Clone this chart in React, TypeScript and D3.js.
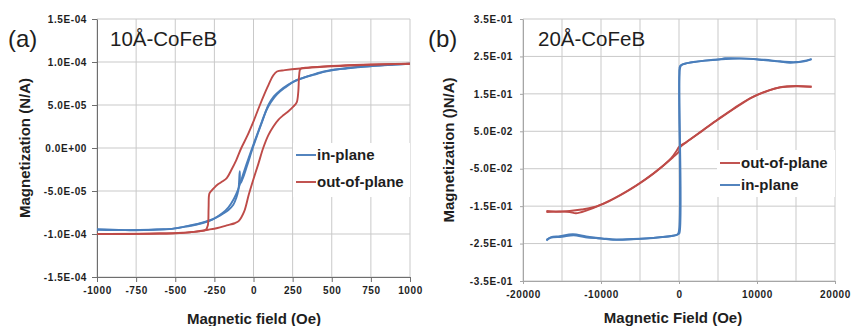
// Two magnetization hysteresis panels (10Å / 20Å CoFeB), drawn with D3
import { useEffect, useRef } from "react"
import * as d3 from "d3"

type Pt = [number, number]

// ---------- panel (a): 10Å-CoFeB ----------
const xGridA = [-1000, -750, -500, -250, 0, 250, 500, 750, 1000]
const xTickLabelsA = ["-1000", "-750", "-500", "-250", "0", "250", "500", "750", "1000"]
const yTicksA = [-1.5e-4, -1.0e-4, -5.0e-5, 0, 5.0e-5, 1.0e-4, 1.5e-4]
const yTickLabelsA = ["-1.5E-04", "-1.0E-04", "-5.0E-05", "0.0E+00", "5.0E-05", "1.0E-04", "1.5E-04"]

// in-plane, field sweep up then down
const inPlaneUpA: Pt[] = [
  [-1000, -9.45e-5], [-900, -9.5e-5], [-790, -9.56e-5], [-700, -9.55e-5], [-576, -9.45e-5],
  [-500, -9.35e-5], [-406, -9.0e-5], [-340, -8.75e-5], [-278, -8.4e-5], [-230, -8.0e-5],
  [-193, -7.6e-5], [-160, -7.2e-5], [-129, -6.6e-5], [-110, -5.8e-5], [-96, -4.8e-5],
  [-88, -2.7e-5], [-84, -4.1e-5], [-70, -3.6e-5], [-40, -2.0e-5], [-5, 0],
  [30, 1.8e-5], [60, 3.3e-5], [95, 5.0e-5], [130, 6.0e-5], [170, 6.7e-5],
  [220, 7.35e-5], [276, 7.9e-5], [330, 8.25e-5], [382, 8.5e-5], [450, 8.85e-5],
  [520, 9.1e-5], [595, 9.25e-5], [700, 9.45e-5], [808, 9.6e-5], [900, 9.7e-5], [1000, 9.8e-5],
]
const inPlaneDownA: Pt[] = [
  [1000, 9.8e-5], [800, 9.6e-5], [600, 9.3e-5], [450, 8.9e-5], [350, 8.35e-5],
  [260, 7.75e-5], [200, 7.0e-5], [150, 6.25e-5], [110, 5.3e-5], [80, 4.3e-5],
  [40, 2.4e-5], [-20, -0.6e-5], [-60, -2.7e-5], [-100, -4.9e-5], [-125, -5.9e-5],
  [-160, -6.9e-5], [-200, -7.6e-5], [-260, -8.3e-5], [-330, -8.75e-5], [-420, -9.1e-5],
  [-520, -9.4e-5], [-650, -9.5e-5], [-800, -9.55e-5], [-1000, -9.5e-5],
]
// out-of-plane
const outPlaneUpA: Pt[] = [
  [-1000, -1.0e-4], [-800, -1.0e-4], [-600, -9.95e-5], [-470, -9.9e-5], [-380, -9.75e-5],
  [-290, -9.5e-5], [-230, -9.3e-5], [-171, -9.0e-5], [-120, -8.75e-5], [-95, -8.5e-5],
  [-60, -7.4e-5], [-30, -5.4e-5], [0, -3.6e-5], [30, -1.9e-5], [62, 0],
  [95, 1.5e-5], [127, 2.5e-5], [160, 3.3e-5], [190, 3.8e-5], [225, 4.3e-5],
  [254, 4.8e-5], [276, 5.3e-5], [286, 6.5e-5], [292, 8.5e-5], [300, 9.2e-5],
  [350, 9.35e-5], [500, 9.55e-5], [700, 9.7e-5], [1000, 9.8e-5],
]
const outPlaneDownA: Pt[] = [
  [1000, 9.8e-5], [700, 9.65e-5], [450, 9.45e-5], [300, 9.25e-5], [200, 9.05e-5],
  [150, 8.9e-5], [125, 8.4e-5], [90, 7.1e-5], [41, 5.0e-5], [0, 3.1e-5],
  [-40, 1.4e-5], [-78, 0], [-110, -1.4e-5], [-140, -2.5e-5], [-171, -3.5e-5],
  [-200, -3.9e-5], [-225, -4.2e-5], [-250, -4.6e-5], [-268, -4.95e-5], [-282, -5.3e-5],
  [-287, -7.0e-5], [-292, -9.0e-5], [-305, -9.5e-5], [-350, -9.7e-5], [-450, -9.85e-5],
  [-600, -9.95e-5], [-1000, -1.0e-4],
]

// ---------- panel (b): 20Å-CoFeB ----------
const xGridB = [-20000, -15000, -10000, -5000, 0, 5000, 10000, 15000, 20000]
const xTicksB = [-20000, -10000, 0, 10000, 20000]
const xTickLabelsB = ["-20000", "-10000", "0", "10000", "20000"]
const yTicksB = [-0.35, -0.25, -0.15, -0.05, 0.05, 0.15, 0.25, 0.35]
const yTickLabelsB = ["-3.5E-01", "-2.5E-01", "-1.5E-01", "-5.0E-02", "5.0E-02", "1.5E-01", "2.5E-01", "3.5E-01"]

const inPlaneUpB: Pt[] = [
  [-17000, -0.242], [-16400, -0.233], [-15300, -0.230], [-13600, -0.225], [-11900, -0.231],
  [-9750, -0.237], [-8470, -0.240], [-5500, -0.238], [-3300, -0.235], [-800, -0.229],
  [-100, -0.225], [60, -0.222], [100, 0.215], [250, 0.225], [500, 0.229],
  [2200, 0.236], [5200, 0.242], [5900, 0.245], [9500, 0.243], [10800, 0.240],
  [12900, 0.236], [14200, 0.233], [15900, 0.236], [17000, 0.243],
]
const inPlaneDownB: Pt[] = [
  [17000, 0.243], [15000, 0.235], [13000, 0.237], [11000, 0.241], [8000, 0.244],
  [6000, 0.243], [3000, 0.238], [800, 0.231], [150, 0.225], [40, 0.2],
  [0, -0.215], [-200, -0.226], [-2000, -0.232], [-5000, -0.237], [-8000, -0.239],
  [-10000, -0.236], [-12000, -0.233], [-13500, -0.228], [-15000, -0.232], [-16500, -0.235],
  [-17000, -0.240],
]
const outPlaneUpB: Pt[] = [
  [-17000, -0.166], [-15300, -0.164], [-14000, -0.166], [-13200, -0.169], [-11900, -0.162],
  [-9750, -0.144], [-7600, -0.121], [-5500, -0.095], [-3300, -0.063], [-800, -0.02],
  [0, -0.004], [100, 0.006], [940, 0.021], [3100, 0.053], [5200, 0.084],
  [7400, 0.115], [9500, 0.142], [11600, 0.160], [12900, 0.167], [15000, 0.170], [17000, 0.169],
]
const outPlaneDownB: Pt[] = [
  [17000, 0.169], [15000, 0.171], [13000, 0.168], [11000, 0.155], [9000, 0.137],
  [7000, 0.111], [5000, 0.082], [3000, 0.052], [1000, 0.022], [0, 0.008],
  [-300, -0.002], [-1000, -0.022], [-3000, -0.059], [-5000, -0.089], [-7000, -0.115],
  [-9000, -0.137], [-11000, -0.153], [-12500, -0.159], [-14000, -0.163], [-15500, -0.165],
  [-17000, -0.163],
]

const BLUE = "#4a7ebb"
const RED = "#be4b48"
const GRID = "#c9c9c9"
const FONT = "'Liberation Sans', Arial, Helvetica, sans-serif"

interface Panel {
  box: { left: number; right: number; top: number; bottom: number }
  xDomain: [number, number]
  yDomain: [number, number]
  xGrid: number[]
  xTicks: number[]
  xTickLabels: string[]
  yTicks: number[]
  yTickLabels: string[]
  axisColor: string
  tickSize: number
  series: { points: Pt[]; color: string }[]
  tag: string
  tagX: number
  title: string
  titleX: number
  xTitle: string
  xTitleX: number
  xTitleY: number
  yTitle: string
  yTitleX: number
  legend: { label: string; color: string }[]
  legendBox: { x: number; y: number; w: number; h: number }
  legendRows: number[]
}

function drawPanel(svg: d3.Selection<SVGSVGElement, unknown, null, undefined>, p: Panel) {
  const { left, right, top, bottom } = p.box
  const x = d3.scaleLinear().domain(p.xDomain).range([left, right])
  const y = d3.scaleLinear().domain(p.yDomain).range([bottom, top])
  const g = svg.append("g")

  // gridlines (also form the top/right frame)
  g.append("g").selectAll("line").data(p.xGrid).join("line")
    .attr("x1", d => x(d)).attr("x2", d => x(d))
    .attr("y1", top).attr("y2", bottom)
    .attr("stroke", GRID).attr("stroke-width", 1)
  g.append("g").selectAll("line").data(p.yTicks).join("line")
    .attr("x1", left).attr("x2", right)
    .attr("y1", d => y(d)).attr("y2", d => y(d))
    .attr("stroke", GRID).attr("stroke-width", 1)

  // axes
  const yAxis = g.append("g")
    .attr("transform", `translate(${left},0)`)
    .call(d3.axisLeft(y).tickValues(p.yTicks).tickSize(p.tickSize).tickSizeOuter(0)
      .tickPadding(10 - p.tickSize).tickFormat((_, i) => p.yTickLabels[i]))
  const xAxis = g.append("g")
    .attr("transform", `translate(0,${bottom})`)
    .call(d3.axisBottom(x).tickValues(p.xTicks).tickSize(p.tickSize).tickSizeOuter(0)
      .tickPadding(10 - p.tickSize).tickFormat((_, i) => p.xTickLabels[i]))
  for (const ax of [yAxis, xAxis]) {
    ax.attr("font-family", FONT).attr("font-size", 10).attr("font-weight", "bold")
    ax.selectAll("text").attr("fill", "#1e1e1e").attr("letter-spacing", "0.6px")
    ax.selectAll("line").attr("stroke", p.axisColor)
    ax.select(".domain").attr("stroke", p.axisColor)
  }

  // data
  const line = d3.line<Pt>().x(d => x(d[0])).y(d => y(d[1])).curve(d3.curveCatmullRom.alpha(0.5))
  p.series.forEach(s => {
    g.append("path").attr("d", line(s.points)).attr("fill", "none")
      .attr("stroke", s.color).attr("stroke-width", 1.9).attr("stroke-linejoin", "round")
  })

  // legend
  const lb = p.legendBox
  g.append("rect").attr("x", lb.x).attr("y", lb.y).attr("width", lb.w).attr("height", lb.h).attr("fill", "#fff")
  p.legend.forEach((l, i) => {
    const ry = p.legendRows[i]
    g.append("line").attr("x1", lb.x + 3).attr("x2", lb.x + 23).attr("y1", ry).attr("y2", ry)
      .attr("stroke", l.color).attr("stroke-width", 1.9)
    g.append("text").attr("x", lb.x + 24).attr("y", ry).attr("dy", "0.36em")
      .attr("font-family", FONT).attr("font-size", 15).attr("font-weight", "bold").attr("fill", "#1e1e1e")
      .text(l.label)
  })

  // labels
  g.append("text").attr("x", p.tagX).attr("y", 47).attr("font-family", FONT).attr("font-size", 24)
    .attr("fill", "#1e1e1e").text(p.tag)
  g.append("text").attr("x", p.titleX).attr("y", 46).attr("font-family", FONT).attr("font-size", 20.5)
    .attr("fill", "#1e1e1e").text(p.title)
  g.append("text").attr("x", p.xTitleX).attr("y", p.xTitleY).attr("text-anchor", "middle")
    .attr("font-family", FONT).attr("font-size", 15).attr("font-weight", "bold").attr("fill", "#1e1e1e")
    .text(p.xTitle)
  g.append("text").attr("transform", `translate(${p.yTitleX},${(top + bottom) / 2}) rotate(-90)`)
    .attr("text-anchor", "middle")
    .attr("font-family", FONT).attr("font-size", 15).attr("font-weight", "bold").attr("fill", "#1e1e1e")
    .text(p.yTitle)
}

export default function App() {
  const svgRef = useRef<SVGSVGElement>(null)

  useEffect(() => {
    if (!svgRef.current) return
    const svg = d3.select(svgRef.current)
    svg.selectAll("*").remove()

    drawPanel(svg, {
      box: { left: 97, right: 410, top: 19, bottom: 277 },
      xDomain: [-1000, 1000],
      yDomain: [-1.5e-4, 1.5e-4],
      xGrid: xGridA,
      xTicks: xGridA,
      xTickLabels: xTickLabelsA,
      yTicks: yTicksA,
      yTickLabels: yTickLabelsA,
      axisColor: "#6e6e6e",
      tickSize: 5,
      series: [
        { points: inPlaneUpA, color: BLUE },
        { points: inPlaneDownA, color: BLUE },
        { points: outPlaneUpA, color: RED },
        { points: outPlaneDownA, color: RED },
      ],
      tag: "(a)",
      tagX: 8,
      title: "10Å-CoFeB",
      titleX: 110,
      xTitle: "Magnetic field (Oe)",
      xTitleX: 254,
      xTitleY: 324,
      yTitle: "Magnetization (N/A)",
      yTitleX: 30,
      legend: [
        { label: "in-plane", color: BLUE },
        { label: "out-of-plane", color: RED },
      ],
      legendBox: { x: 293, y: 143, w: 117, h: 54 },
      legendRows: [155, 182],
    })

    drawPanel(svg, {
      box: { left: 523, right: 835, top: 19, bottom: 281 },
      xDomain: [-20000, 20000],
      yDomain: [-0.35, 0.35],
      xGrid: xGridB,
      xTicks: xTicksB,
      xTickLabels: xTickLabelsB,
      yTicks: yTicksB,
      yTickLabels: yTickLabelsB,
      axisColor: "#a6a6a6",
      tickSize: 3,
      series: [
        { points: outPlaneUpB, color: RED },
        { points: outPlaneDownB, color: RED },
        { points: inPlaneUpB, color: BLUE },
        { points: inPlaneDownB, color: BLUE },
      ],
      tag: "(b)",
      tagX: 428,
      title: "20Å-CoFeB",
      titleX: 538,
      xTitle: "Magnetic Field (Oe)",
      xTitleX: 673,
      xTitleY: 323,
      yTitle: "Magnetization ()N/A)",
      yTitleX: 454,
      legend: [
        { label: "out-of-plane", color: RED },
        { label: "in-plane", color: BLUE },
      ],
      legendBox: { x: 717, y: 150, w: 118, h: 47 },
      legendRows: [163, 185],
    })
  }, [])

  return (
    <svg
      ref={svgRef}
      width={852}
      height={326}
      style={{ position: "absolute", left: 0, top: 0, background: "#fff" }}
    />
  )
}
